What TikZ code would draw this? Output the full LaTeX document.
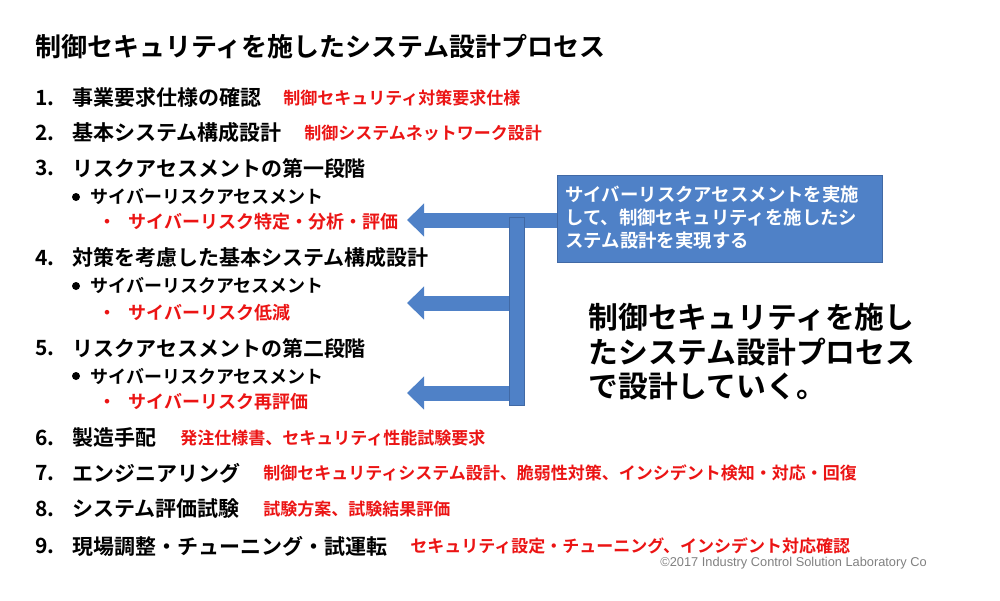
\documentclass[tikz,border=0pt]{standalone}
\usepackage{fontspec}
\setmainfont{Noto Sans CJK JP Bold}
\setsansfont{Liberation Sans}
\usetikzlibrary{arrows.meta}
\definecolor{flowblue}{RGB}{79,129,199}
\definecolor{boxedge}{RGB}{65,105,165}
\definecolor{redtxt}{RGB}{235,20,20}

\begin{document}
\begin{tikzpicture}[x=0.5pt,y=-0.5pt,
  stepline/.style={anchor=west,font=\fontsize{10.5}{11}\selectfont,inner sep=0pt},
  note/.style={anchor=west,font=\fontsize{8.5}{9}\selectfont,text=redtxt,inner sep=0pt},
  sub/.style={anchor=west,font=\fontsize{9}{10}\selectfont,inner sep=0pt},
  flow/.style={flowblue,line width=7.5pt,-{Triangle[width=16pt,length=8.5pt]}}]
\useasboundingbox (0,0) rectangle (1000,600);

\node[anchor=west,font=\fontsize{13}{14}\selectfont,inner sep=0pt] (title) at (35,47) {制御セキュリティを施したシステム設計プロセス};

% numbered steps
\foreach\n/\y/\t in {1/98/事業要求仕様の確認, 2/133/基本システム構成設計, 3/168/リスクアセスメントの第一段階,
  4/258/対策を考慮した基本システム構成設計, 5/348/リスクアセスメントの第二段階, 6/438/製造手配,
  7/473/エンジニアリング, 8/509/システム評価試験, 9/546/現場調整・チューニング・試運転}
  {
  \node[stepline] (num\n) at (35,\y) {\n.};
  \node[stepline] (step\n) at (72,\y) {\t};
  }

% red notes
\node[note] (note1) at (283,98) {制御セキュリティ対策要求仕様};
\node[note] (note2) at (304,133) {制御システムネットワーク設計};
\node[note] (note6) at (180,438) {発注仕様書、セキュリティ性能試験要求};
\node[note] (note7) at (263,473) {制御セキュリティシステム設計、脆弱性対策、インシデント検知・対応・回復};
\node[note] (note8) at (263,509) {試験方案、試験結果評価};
\node[note] (note9) at (410,546) {セキュリティ設定・チューニング、インシデント対応確認};

% sub items
\foreach\k/\y/\r/\t in {a/197/222/サイバーリスク特定・分析・評価, b/286/313/サイバーリスク低減, c/376/402/サイバーリスク再評価}
  {
  \fill (76,\y) circle (4) coordinate (dot\k);
  \node[sub] (sub\k) at (90,\y) {サイバーリスクアセスメント};
  \node[note,font=\fontsize{9}{10}\selectfont] (red\k) at (98,\r) {・\hspace{6pt}\t};
  }

% callout box and arrows
\node[fill=flowblue,draw=boxedge,minimum width=162.5pt,minimum height=43.5pt,inner sep=0pt] (box) at (719.5,218.5) {};
\node[anchor=west,text=white,font=\fontsize{9.2}{11.5}\selectfont,align=left,inner sep=0pt] (boxtext) at (565,218)
  {サイバーリスクアセスメントを実施\\して、制御セキュリティを施したシ\\ステム設計を実現する};
\coordinate (tipa) at (407,220);
\coordinate (tipb) at (407,303);
\coordinate (tipc) at (407,393);
\coordinate (barb) at (510,303);
\coordinate (barc) at (510,393);
\draw[flow] (box.west|-tipa) -- (tipa);
\draw[flow] (barb) -- (tipb);
\draw[flow] (barc) -- (tipc);
\fill[flowblue] (509,217) rectangle (524,405);
\draw[boxedge,line width=0.4pt] (509,217) rectangle (524,405);

\node[anchor=west,font=\fontsize{14.9}{17.3}\selectfont,align=left,inner sep=0pt] (claim) at (588,352)
  {制御セキュリティを施し\\たシステム設計プロセス\\で設計していく。};

\node[anchor=west,font=\sffamily\fontsize{6.4}{7}\selectfont,text=gray,inner sep=0pt] (copy) at (660,563)
  {\textcopyright2017 Industry Control Solution Laboratory Co};
\end{tikzpicture}
\end{document}
